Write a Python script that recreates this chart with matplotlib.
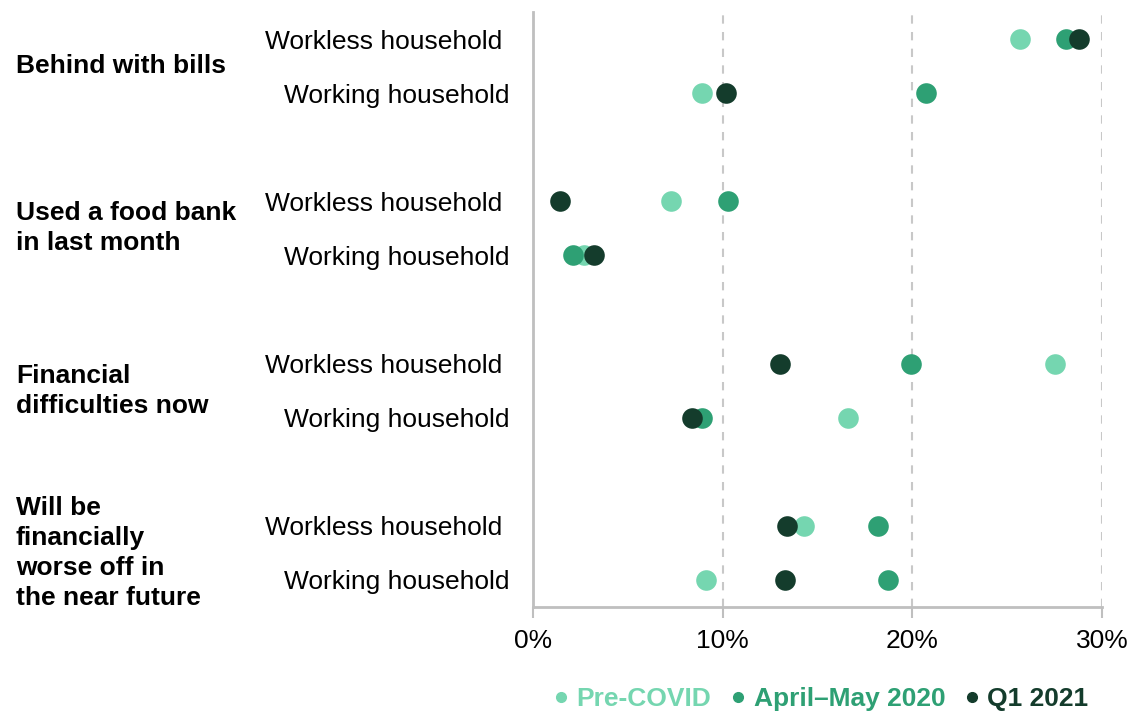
import numpy as np
import matplotlib.pyplot as plt
from matplotlib.lines import Line2D
import matplotlib.transforms as mtransforms

plt.rcParams['font.family'] = ['Liberation Sans', 'DejaVu Sans']

groups = ["Behind with bills", "Used a food bank\nin last month",
          "Financial\ndifficulties now",
          "Will be\nfinancially\nworse off in\nthe near future"]
row_labels = ["Workless household ", "Working household"] * 4
series = ["Pre-COVID", "April\u2013May 2020", "Q1 2021"]
pre_covid = [25.7, 8.9, 7.3, 2.7, 27.5, 16.6, 14.3, 9.1]
april_may = [28.1, 20.7, 10.3, 2.1, 19.95, 8.9, 18.2, 18.7]
q1_2021 = [28.8, 10.2, 1.4, 3.2, 13.0, 8.4, 13.4, 13.3]
colors = ['#75D6B0', '#2EA074', '#143C2C']

ypos = [0, 1, 3, 4, 6, 7, 9, 10]

fig = plt.figure(figsize=(11.38, 7.13), dpi=100)
ax = fig.add_axes([533/1138, 1-607/713, (1102-533)/1138, (607-12)/713])

for vals, c in zip([pre_covid, april_may, q1_2021], colors):
    ax.scatter(vals, ypos, s=220, color=c, zorder=3, linewidths=0)

ax.set_xlim(0, 30)
ax.set_ylim(10.5, -0.5)
ax.set_xticks([0, 10, 20, 30])
ax.set_xticklabels(['0%', '10%', '20%', '30%'], fontsize=19)
ax.set_yticks(ypos)
ax.set_yticklabels(row_labels, fontsize=19)
ax.tick_params(axis='y', length=0, pad=17)
ax.tick_params(axis='x', length=8, width=1.5, color='#BFBFBF', pad=8)
for x in [10, 20, 30]:
    ax.axvline(x, color='#C8C8C8', linestyle=(0, (4, 4)), linewidth=1.5, zorder=1)
for s in ['top', 'right']:
    ax.spines[s].set_visible(False)
for s in ['left', 'bottom']:
    ax.spines[s].set_color('#BFBFBF')
    ax.spines[s].set_linewidth(2)

trans = mtransforms.blended_transform_factory(fig.transFigure, ax.transData)
for i, g in enumerate(groups):
    ax.text(16/1138, i*3 + 0.5, g, transform=trans, fontsize=19, fontweight='bold',
            ha='left', va='center', linespacing=1.33)

handles = [Line2D([], [], marker='o', linestyle='', color=c, markersize=7) for c in colors]
leg = fig.legend(handles, series, loc='center', bbox_to_anchor=(822/1138, 1-699/713),
                 ncol=3, frameon=False, handlelength=0.4, handletextpad=0.4,
                 columnspacing=0.8, prop={'size': 19, 'weight': 'bold'})
for t, c in zip(leg.get_texts(), colors):
    t.set_color(c)

fig.savefig('out.png', dpi=100)
